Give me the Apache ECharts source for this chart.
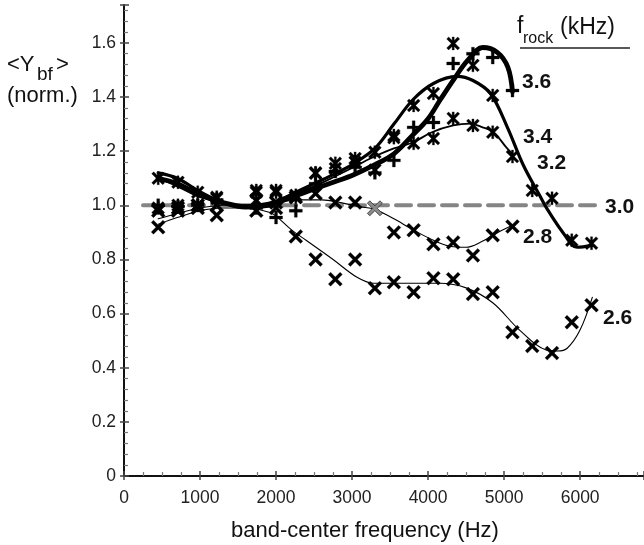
<!DOCTYPE html>
<html>
<head>
<meta charset="utf-8">
<script src="https://cdn.jsdelivr.net/npm/echarts@6/dist/echarts.min.js"></script>
<style>
  html, body { margin: 0; padding: 0; background: #fff; }
  #chart { width: 644px; height: 545px; }
</style>
</head>
<body>
<div id="chart"></div>
<script>
// tick labels
var xTicks = [0, 1000, 2000, 3000, 4000, 5000, 6000];
var yTicks = [0, 0.2, 0.4, 0.6, 0.8, 1.0, 1.2, 1.4, 1.6];

// measured points (band-center frequency, <Ybf>)
var f36 = [450, 710, 970, 1220, 1740, 2000, 2260, 2520, 2780, 3040, 3300, 3550, 3810, 4070, 4330, 4590, 4850, 5110];
var y36 = [1.00, 0.995, 1.00, 1.02, 0.99, 0.955, 0.98, 1.08, 1.125, 1.14, 1.12, 1.166, 1.288, 1.306, 1.524, 1.56, 1.546, 1.424];

var f34 = [450, 710, 970, 1220, 1740, 2000, 2260, 2520, 2780, 3040, 3300, 3550, 3810, 4070, 4330, 4590, 4850, 5110, 5370, 5630, 5890, 6150];
var y34 = [0.99, 1.00, 1.00, 1.025, 1.048, 1.048, 1.037, 1.118, 1.136, 1.159, 1.13, 1.25, 1.369, 1.413, 1.598, 1.517, 1.406, 1.18, 1.055, 1.026, 0.871, 0.86];

var f32 = [450, 710, 970, 1220, 1740, 2000, 2260, 2520, 2780, 3040, 3300, 3550, 3810, 4070, 4330, 4590, 4850];
var y32 = [1.10, 1.085, 1.048, 1.03, 1.055, 1.055, 1.03, 1.12, 1.155, 1.173, 1.196, 1.258, 1.229, 1.247, 1.321, 1.295, 1.27];

var f30 = [3300];
var y30 = [0.989];

var f28 = [450, 710, 970, 1220, 1740, 2000, 2260, 2520, 2780, 3040, 3550, 3810, 4070, 4330, 4590, 4850, 5110];
var y28 = [0.98, 0.99, 1.00, 0.963, 1.018, 1.01, 1.03, 1.044, 1.01, 1.01, 0.90, 0.908, 0.856, 0.863, 0.815, 0.889, 0.922];

var f26 = [450, 710, 970, 1220, 1740, 2000, 2260, 2520, 2780, 3040, 3300, 3550, 3810, 4070, 4330, 4590, 4850, 5110, 5370, 5630, 5890, 6150];
var y26 = [0.919, 0.98, 0.99, 1.00, 0.98, 0.99, 0.885, 0.80, 0.727, 0.80, 0.694, 0.716, 0.679, 0.731, 0.727, 0.672, 0.679, 0.531, 0.48, 0.454, 0.568, 0.631];

// fitted curves
var cf36 = [450, 700, 1000, 1300, 1600, 1900, 2200, 2500, 2800, 3000, 3300, 3550, 3800, 4000, 4160, 4350, 4520, 4720, 4910, 5050, 5110];
var cy36 = [1.10, 1.08, 1.04, 1.01, 0.995, 1.00, 1.03, 1.06, 1.09, 1.11, 1.15, 1.19, 1.26, 1.32, 1.39, 1.47, 1.535, 1.583, 1.565, 1.51, 1.42];

var cf34 = [450, 700, 1000, 1300, 1600, 1900, 2200, 2500, 2800, 3000, 3300, 3550, 3800, 4070, 4380, 4590, 4820, 5040, 5250, 5470, 5580, 5780, 5960, 6160];
var cy34 = [1.12, 1.10, 1.05, 1.01, 0.99, 1.00, 1.04, 1.08, 1.12, 1.15, 1.21, 1.30, 1.39, 1.45, 1.476, 1.461, 1.413, 1.29, 1.15, 1.035, 0.98, 0.897, 0.845, 0.852];

var cf32 = [450, 700, 1000, 1300, 1600, 1900, 2200, 2500, 2800, 3050, 3240, 3550, 3800, 4050, 4330, 4550, 4700, 4860, 5040, 5110];
var cy32 = [1.10, 1.07, 1.03, 1.01, 1.00, 1.01, 1.04, 1.07, 1.11, 1.145, 1.173, 1.21, 1.232, 1.27, 1.295, 1.302, 1.29, 1.27, 1.21, 1.19];

var cf30 = [250, 6220];
var cy30 = [1.0, 1.0];

var cf28 = [450, 700, 1000, 1300, 1700, 2000, 2300, 2600, 2850, 3100, 3300, 3550, 3800, 4070, 4300, 4500, 4700, 4900, 5110];
var cy28 = [0.95, 0.97, 0.99, 1.00, 1.00, 1.01, 1.02, 1.02, 1.01, 0.995, 0.985, 0.95, 0.91, 0.871, 0.848, 0.845, 0.865, 0.897, 0.926];

var cf26 = [450, 700, 1000, 1300, 1600, 1900, 2000, 2200, 2400, 2750, 3060, 3280, 3700, 4150, 4500, 4850, 5200, 5560, 5700, 5830, 6000, 6160];
var cy26 = [0.93, 0.955, 0.98, 0.99, 0.99, 0.975, 0.96, 0.91, 0.87, 0.80, 0.735, 0.712, 0.712, 0.712, 0.695, 0.64, 0.54, 0.465, 0.462, 0.472, 0.54, 0.66];

var FONT = '"Liberation Sans", Arial, sans-serif';

var PLUS = 'path://M3.9,0H6.1V3.9H10V6.1H6.1V10H3.9V6.1H0V3.9H3.9Z';
var CROSS = 'path://M1.6,0L5,3.4L8.4,0L10,1.6L6.6,5L10,8.4L8.4,10L5,6.6L1.6,10L0,8.4L3.4,5L0,1.6Z';
var STAR = 'path://M1.5,0L5,3.5L8.5,0L10,1.5L6.5,5L10,8.5L8.5,10L5,6.5L1.5,10L0,8.5L3.5,5L0,1.5Z M4.2,0H5.8V10H4.2Z';

function zip(xs, ys) {
  var out = [];
  for (var i = 0; i < xs.length; i++) out.push([xs[i], ys[i]]);
  return out;
}

function curve(name, xs, ys, width, color, dash) {
  return {
    name: name,
    type: 'line',
    data: zip(xs, ys),
    smooth: dash ? false : 0.35,
    symbol: 'none',
    silent: true,
    z: 3,
    lineStyle: { width: width, color: color || '#000', type: dash || 'solid', cap: 'round', opacity: 1 }
  };
}

function marks(name, xs, ys, symbol, size, color) {
  return {
    name: name,
    type: 'scatter',
    data: zip(xs, ys),
    symbol: symbol,
    symbolSize: size,
    z: 4,
    itemStyle: {
      opacity: 1,
      color: color || '#000',
      borderColor: color ? '#333' : '#000',
      borderWidth: color ? 0.8 : 0.3
    }
  };
}

function label(txt, x, y, size, bold) {
  return {
    type: 'text',
    x: x,
    y: y,
    style: {
      text: txt,
      font: (bold ? 'bold ' : '') + size + 'px ' + FONT,
      fill: '#111',
      align: 'left',
      verticalAlign: 'middle'
    }
  };
}

// extra axis that only draws the outer half of the major ticks
function outerTicks(kind, max, interval) {
  return {
    type: 'value',
    position: kind === 'x' ? 'bottom' : 'left',
    min: 0,
    max: max,
    interval: interval,
    axisLine: { show: false, onZero: false },
    axisTick: { show: true, inside: false, length: 4, lineStyle: { color: '#444', width: 1.5 } },
    axisLabel: { show: false },
    splitLine: { show: false }
  };
}

var chart = echarts.init(document.getElementById('chart'), null, { renderer: 'canvas' });

var option = {
  animation: false,
  backgroundColor: '#fff',
  grid: { left: 124, right: 0, top: 5, bottom: 69 },
  xAxis: [
    {
      type: 'value',
      min: 0,
      max: 6840,
      interval: 1000,
      axisLine: { show: true, onZero: false, lineStyle: { color: '#111', width: 2 } },
      axisTick: { show: true, inside: true, length: 5, lineStyle: { color: '#444', width: 1.5 } },
      minorTick: { show: true, splitNumber: 4, length: 4, lineStyle: { color: '#777', width: 1.2 } },
      splitLine: { show: false },
      axisLabel: {
        margin: 13,
        color: '#222',
        fontSize: 17.5,
        fontFamily: FONT,
        showMaxLabel: false,
        formatter: function (v) { return xTicks.indexOf(v) >= 0 ? String(v) : ''; }
      }
    },
    {
      type: 'value',
      position: 'top',
      min: 0,
      max: 6840,
      axisLine: { show: true, lineStyle: { color: '#111', width: 2 } },
      axisTick: { show: false },
      axisLabel: { show: false },
      splitLine: { show: false }
    },
    outerTicks('x', 6840, 1000)
  ],
  yAxis: [
    {
      type: 'value',
      min: 0,
      max: 1.74,
      interval: 0.2,
      axisLine: { show: true, onZero: false, lineStyle: { color: '#111', width: 2 } },
      axisTick: { show: true, inside: true, length: 5, lineStyle: { color: '#444', width: 1.5 } },
      minorTick: { show: true, splitNumber: 5, length: 4, lineStyle: { color: '#777', width: 1.2 } },
      splitLine: { show: false },
      axisLabel: {
        margin: 8,
        color: '#222',
        fontSize: 17.5,
        fontFamily: FONT,
        showMaxLabel: false,
        formatter: function (v) {
          var hit = yTicks.filter(function (t) { return Math.abs(t - v) < 1e-6; });
          if (!hit.length) return '';
          return v === 0 ? '0' : v.toFixed(1);
        }
      }
    },
    outerTicks('y', 1.74, 0.2)
  ],
  series: [
    curve('3.0', cf30, cy30, 4, '#858585', [15, 8]),
    curve('2.6', cf26, cy26, 1.1),
    curve('2.8', cf28, cy28, 1.1),
    curve('3.2', cf32, cy32, 1.8),
    curve('3.4', cf34, cy34, 3.2),
    curve('3.6', cf36, cy36, 4.8),
    marks('2.6 pts', f26, y26, CROSS, 14),
    marks('2.8 pts', f28, y28, CROSS, 14),
    marks('3.0 pts', f30, y30, CROSS, 15, '#8a8a8a'),
    marks('3.2 pts', f32, y32, STAR, 13),
    marks('3.4 pts', f34, y34, STAR, 13),
    marks('3.6 pts', f36, y36, PLUS, 13)
  ],
  graphic: [
    label('3.6', 522, 82, 21, true),
    label('3.4', 523, 137, 21, true),
    label('3.2', 537, 163, 21, true),
    label('3.0', 605, 207, 21, true),
    label('2.8', 523, 237, 21, true),
    label('2.6', 603, 318, 21, true),
    // f_rock (kHz) legend heading
    label('f', 517, 27, 23, false),
    label('rock', 523, 39, 16, false),
    label('(kHz)', 560, 28, 23, false),
    {
      type: 'line',
      shape: { x1: 520, y1: 48, x2: 630, y2: 48 },
      style: { stroke: '#222', lineWidth: 1.5 }
    },
    // y axis title
    label('<Y', 7, 65, 22, false),
    label('bf', 37, 75, 19, false),
    label('>', 56, 65, 22, false),
    label('(norm.)', 7, 96, 22, false),
    // x axis title
    {
      type: 'text',
      x: 365,
      y: 531,
      style: {
        text: 'band-center frequency (Hz)',
        font: '22px ' + FONT,
        fill: '#111',
        align: 'center',
        verticalAlign: 'middle'
      }
    }
  ]
};

chart.setOption(option);
</script>
</body>
</html>
